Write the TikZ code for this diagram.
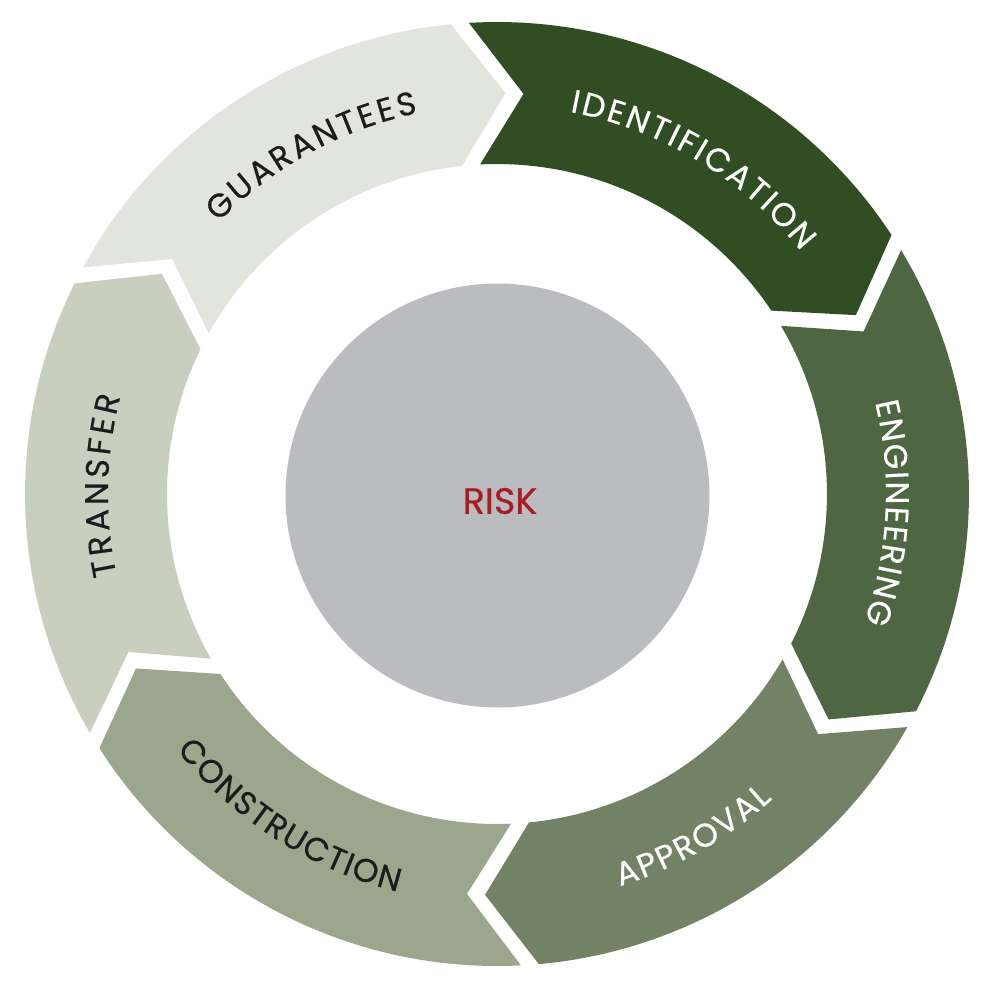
\documentclass[tikz,border=0pt]{standalone}
\usepackage{fontspec}
\setmainfont{Poppins}[FakeBold=0.4]
\usetikzlibrary{decorations.text}
\definecolor{guarcol}{HTML}{E2E5DE}
\definecolor{identcol}{HTML}{314D23}
\definecolor{engcol}{HTML}{4F6642}
\definecolor{apprcol}{HTML}{728264}
\definecolor{constcol}{HTML}{9BA78C}
\definecolor{transcol}{HTML}{C9CFBF}
\definecolor{hubgray}{HTML}{BBBCC0}
\definecolor{riskred}{HTML}{A81C22}
\definecolor{labeldark}{HTML}{1C1C1C}
\tikzset{
  ringlabel/.style 2 args={decorate, decoration={text along path, text align={fit to path},
    text={|\fontsize{9.3}{11}\selectfont\color{#1}|#2}}}
}
\begin{document}
\begin{tikzpicture}[x=0.1mm, y=0.1mm]
    \useasboundingbox (-497,-500) rectangle (503,494);
    % ring segments, clockwise, tip 7 degrees ahead
    \foreach \a/\b/\col in {152.4/94.5/guarcol, 94.5/32.2/identcol, 32.2/-28.5/engcol,
        -28.5/-86/apprcol, -86/-148.5/constcol, 211.5/152.4/transcol}
      \fill[\col] (\a-1.09:472) arc[start angle=\a-1.09, end angle=\b+1.09, radius=472]
        -- (\b+1.29-7:401) -- (\b+1.56:330)
        arc[start angle=\b+1.56, end angle=\a-1.56, radius=330]
        -- (\a-1.29-7:401) -- cycle;
    \fill[hubgray] (0.5,-1.5) circle[radius=212];
    \node[font=\fontsize{10.4}{12}\selectfont, text=riskred] (risk) at (3,-7) {RISK};
    % labels
    \path[ringlabel={labeldark}{GUARANTEES}] (135.7:389) arc[start angle=135.7, end angle=101.7, radius=389];
    \path[ringlabel={white}{IDENTIFICATION}] (79.2:389) arc[start angle=79.2, end angle=38.6, radius=389];
    \path[ringlabel={white}{ENGINEERING}] (13.6:389) arc[start angle=13.6, end angle=-19.2, radius=389];
    \path[ringlabel={white}{APPROVAL}] (-72.6:411) arc[start angle=-72.6, end angle=-47.9, radius=411];
    \path[ringlabel={labeldark}{CONSTRUCTION}] (-141.4:410) arc[start angle=-141.4, end angle=-104, radius=410];
    \path[ringlabel={labeldark}{TRANSFER}] (192:389) arc[start angle=192, end angle=165.5, radius=389];
\end{tikzpicture}
\end{document}
